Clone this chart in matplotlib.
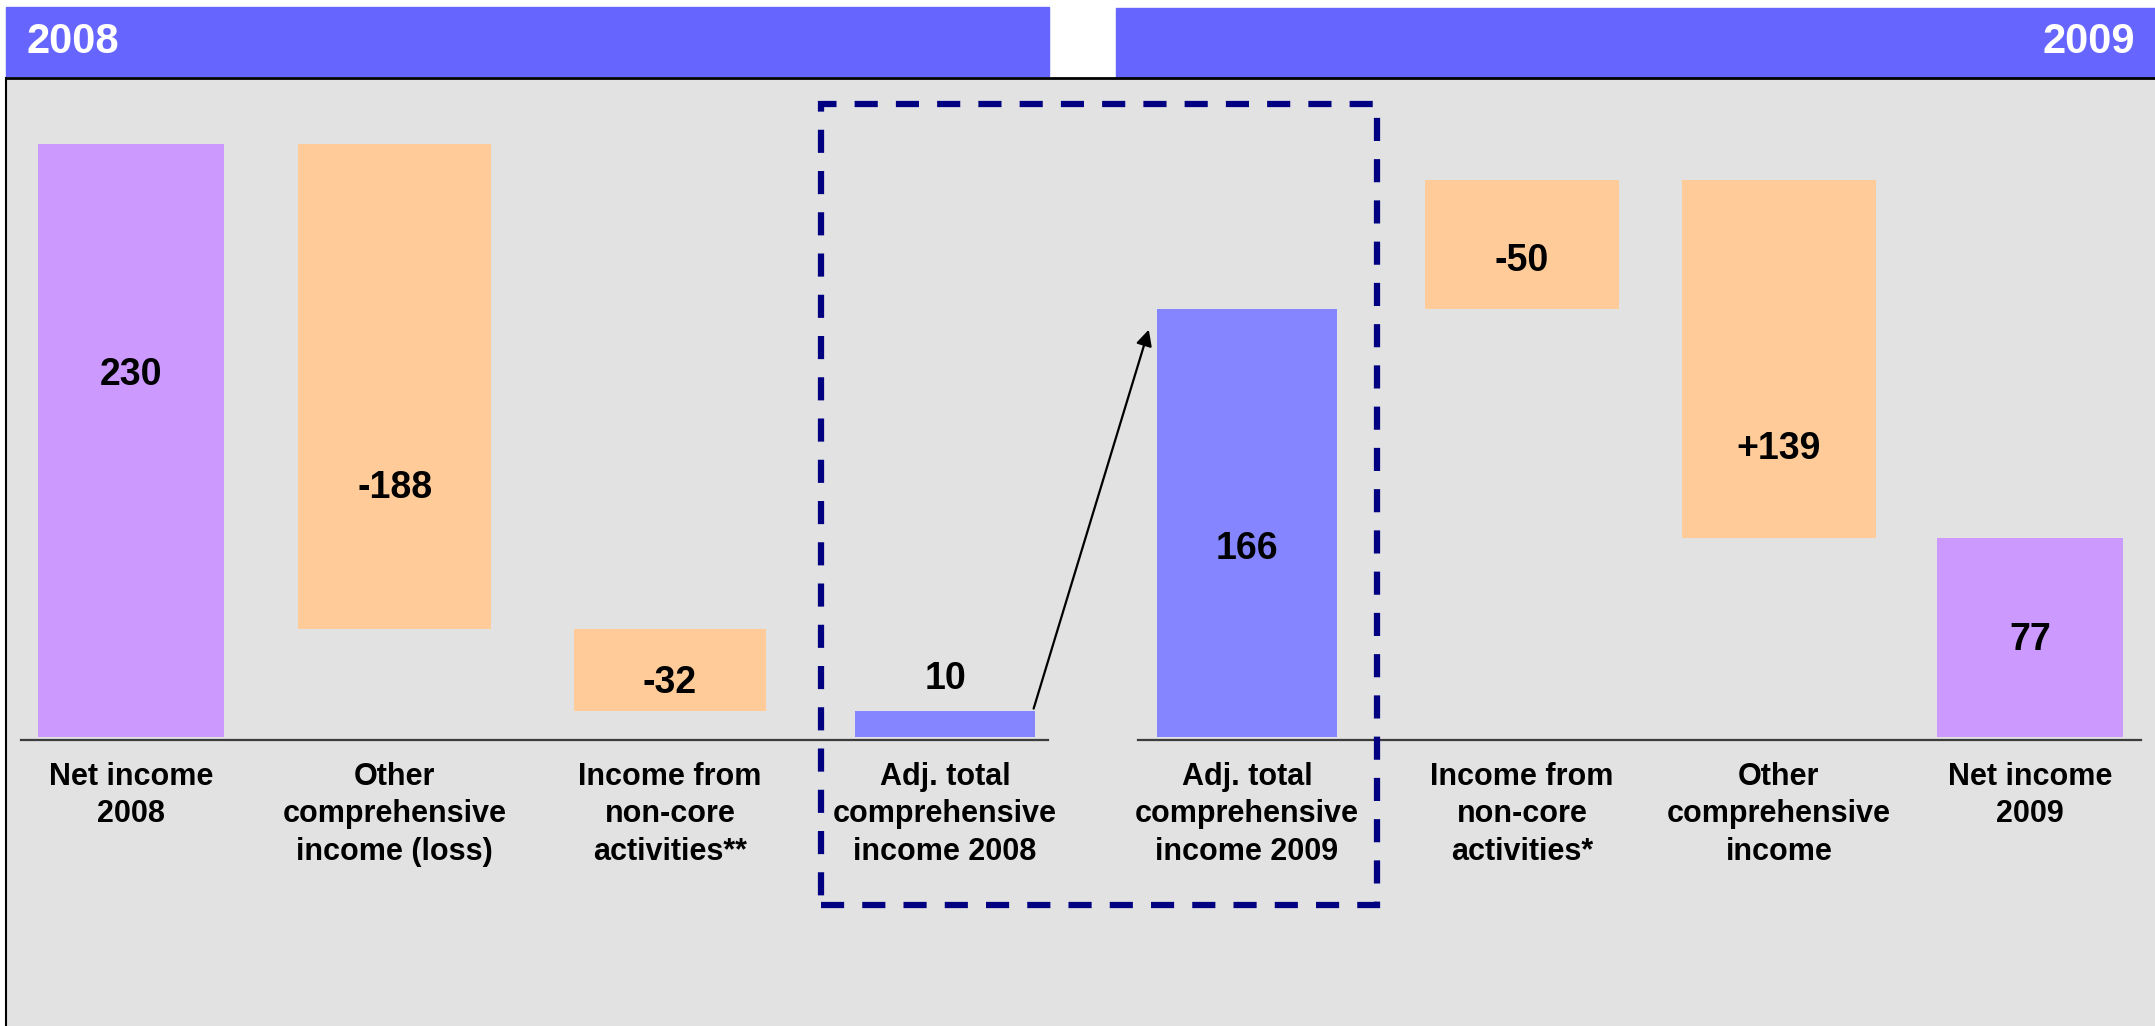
import matplotlib.pyplot as plt
import matplotlib.transforms as mtransforms
from matplotlib.patches import Rectangle, FancyArrowPatch
from matplotlib.lines import Line2D

plt.rcParams['font.family'] = ['Liberation Sans', 'DejaVu Sans']
plt.rcParams['font.weight'] = 'bold'

# bridge 2008 (left to right) and 2009 (read right to left)
labels_2008 = ["Net income\n2008", "Other\ncomprehensive\nincome (loss)",
               "Income from\nnon-core\nactivities**", "Adj. total\ncomprehensive\nincome 2008"]
steps_2008 = [230, -188, -32, 10]
text_2008 = ["230", "-188", "-32", "10"]

labels_2009 = ["Adj. total\ncomprehensive\nincome 2009", "Income from\nnon-core\nactivities*",
               "Other\ncomprehensive\nincome", "Net income\n2009"]
steps_2009 = [166, -50, 139, 77]
text_2009 = ["166", "-50", "+139", "77"]

kinds = ["net", "delta", "delta", "adj", "adj", "delta", "delta", "net"]

# layout: slot centres/widths and where the number sits inside each bar
x_pos = [0.0, 0.973, 1.989, 3.004, 4.118, 5.133, 6.081, 7.007]
widths = [0.686, 0.712, 0.708, 0.664, 0.664, 0.716, 0.716, 0.686]
label_frac = [0.61, 0.29, 0.34, 2.25, 0.44, 0.37, 0.25, 0.49]

colors = {"net": "#cc99ff", "delta": "#ffcc99", "adj": "#8585ff"}
banner = "#6666ff"
navy = "#000080"


def bridge(steps):
    # first and last are totals from zero, the middle ones float
    level = steps[0]
    spans = [(0, level)]
    for s in steps[1:-1]:
        new = level + s
        spans.append((min(level, new), max(level, new)))
        level = new
    spans.append((0, steps[-1]))
    return spans


spans = bridge(steps_2008) + bridge(steps_2009[::-1])[::-1]
categories = labels_2008 + labels_2009
value_text = text_2008 + text_2009

W, H = 2155, 1026
fig = plt.figure(figsize=(W / 100, H / 100), dpi=100)
fig.patch.set_facecolor("white")

ax = fig.add_axes([6 / W, 0, (W - 6) / W, (H - 78) / H])
ax.set_facecolor("#e2e2e2")
ax.set_xlim(-0.461, 7.469)
ax.set_ylim(-112.1, 255.6)
for s in ax.spines.values():
    s.set_visible(False)
ax.set_xticks([])
ax.set_yticks([])

for i, ((lo, hi), kind) in enumerate(zip(spans, kinds)):
    ax.bar(x_pos[i], hi - lo, bottom=lo, width=widths[i],
           color=colors[kind], edgecolor="none", zorder=2)
    ax.text(x_pos[i], lo + (hi - lo) * label_frac[i], value_text[i],
            ha="center", va="center", fontsize=27, fontweight="bold", zorder=4)
    ax.annotate(categories[i], (x_pos[i], 0), xytext=(0, -18),
                textcoords="offset points", ha="center", va="top",
                fontsize=22, fontweight="bold", linespacing=1.32, zorder=4)

# baseline, split between the two years, drawn a few pixels below the bars
base_tr = mtransforms.offset_copy(ax.transData, fig=fig, x=0, y=-3, units="dots")
ax.plot([-0.406, 3.384], [0, 0], color="#3c3c3c", lw=1.6, transform=base_tr, zorder=1)
ax.plot([3.716, 7.417], [0, 0], color="#3c3c3c", lw=1.6, transform=base_tr, zorder=1)

# dashed frame around the adjusted totals
box = Rectangle((2.546, -65.2), 4.598 - 2.546, 245.5 + 65.2, fill=False,
                edgecolor=navy, lw=4.5, linestyle=(0, (3.7, 2.9)), zorder=3)
ax.add_patch(box)

# arrow from 2008 adjusted total to 2009 adjusted total
start = (x_pos[3] + widths[3] / 2 - 0.005, spans[3][1] + 1)
end = (x_pos[4] - widths[4] / 2 - 0.03, spans[4][1] - 8)
ax.add_patch(FancyArrowPatch(start, end, arrowstyle="-|>", mutation_scale=24,
                             color="black", lw=1.6, shrinkA=0, shrinkB=0, zorder=5))

# year banners and the frame
fig.patches.append(Rectangle((6 / W, 1 - 76 / H), (1049 - 6) / W, 69 / H,
                             transform=fig.transFigure, color=banner, zorder=0))
fig.patches.append(Rectangle((1116 / W, 1 - 77 / H), (W - 1116) / W, 69 / H,
                             transform=fig.transFigure, color=banner, zorder=0))
fig.text(27 / W, 1 - 42 / H, "2008", color="white", fontsize=30,
         fontweight="bold", ha="left", va="center")
fig.text(2135 / W, 1 - 42 / H, "2009", color="white", fontsize=30,
         fontweight="bold", ha="right", va="center")
fig.lines.append(Line2D([6 / W, 1], [1 - 78 / H, 1 - 78 / H], color="black",
                        lw=2, transform=fig.transFigure))
fig.lines.append(Line2D([6 / W, 6 / W], [0, 1 - 78 / H], color="black",
                        lw=1.5, transform=fig.transFigure))

fig.savefig("out.png", dpi=100)
